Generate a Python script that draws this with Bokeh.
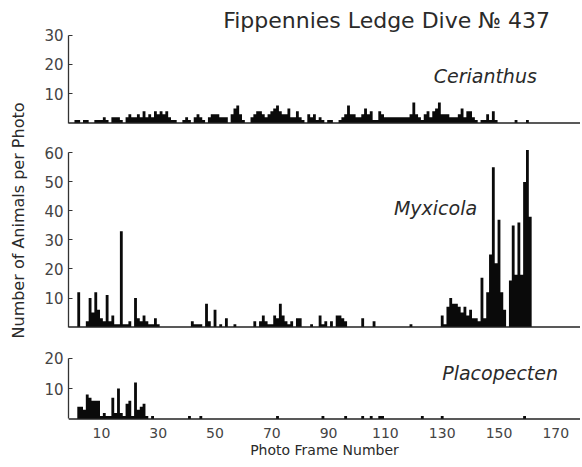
import math
from bokeh.plotting import figure
from bokeh.layouts import column, row
from bokeh.models import FixedTicker, Label, Span, Range1d, ColumnDataSource
from bokeh.embed import file_html
from bokeh.resources import INLINE

# ---------------- data ----------------
x_ticks = [10, 30, 50, 70, 90, 110, 130, 150, 170]

cer_ticks = [10, 20, 30]
cer_frames = [
    1, 2, 4, 5, 8, 9, 10, 11, 12, 14,
    15, 16, 17, 19, 20, 21, 22, 23, 24, 25,
    26, 27, 28, 29, 30, 31, 32, 33, 34, 35,
    36, 39, 40, 41, 43, 44, 45, 46, 48, 49,
    50, 51, 52, 53, 54, 56, 57, 58, 59, 60,
    63, 64, 65, 66, 67, 68, 69, 70, 71, 72,
    73, 74, 75, 76, 77, 78, 79, 80, 81, 83,
    84, 85, 86, 87, 88, 90, 91, 94, 95, 96,
    97, 98, 99, 100, 101, 102, 103, 104, 105, 106,
    107, 108, 109, 110, 111, 112, 113, 114, 115, 116,
    117, 118, 119, 120, 121, 122, 123, 124, 125, 126,
    127, 128, 129, 130, 131, 132, 133, 134, 135, 136,
    137, 138, 139, 140, 141, 142, 144, 145, 146, 147,
    148, 149, 156, 160]
cer_counts = [
    1, 1, 1, 1, 1, 1, 1, 2, 1, 2,
    2, 2, 1, 2, 3, 2, 2, 3, 2, 4,
    2, 3, 2, 4, 3, 4, 3, 4, 2, 1,
    1, 1, 2, 1, 2, 3, 2, 1, 2, 3,
    3, 3, 2, 2, 2, 3, 5, 6, 3, 1,
    2, 3, 4, 4, 3, 2, 3, 4, 5, 6,
    4, 3, 3, 5, 2, 2, 4, 2, 1, 3,
    2, 3, 1, 2, 1, 1, 1, 1, 2, 3,
    6, 3, 3, 2, 2, 3, 5, 3, 4, 1,
    1, 4, 3, 2, 2, 2, 2, 2, 2, 2,
    2, 2, 3, 7, 3, 2, 1, 3, 4, 2,
    4, 5, 7, 3, 3, 3, 2, 2, 2, 3,
    5, 2, 4, 4, 2, 1, 1, 1, 3, 1,
    4, 1, 1, 1]

myx_ticks = [10, 20, 30, 40, 50, 60]
myx_frames = [
    2, 5, 6, 7, 8, 9, 10, 11, 12, 13,
    14, 15, 16, 17, 18, 19, 20, 22, 23, 24,
    25, 26, 27, 28, 29, 30, 42, 43, 44, 45,
    47, 48, 50, 52, 54, 57, 64, 66, 67, 68,
    69, 70, 71, 72, 73, 74, 75, 76, 77, 79,
    80, 84, 87, 88, 89, 91, 93, 94, 95, 96,
    102, 106, 119, 130, 131, 132, 133, 134, 135, 136,
    137, 138, 139, 140, 141, 142, 143, 144, 145, 146,
    147, 148, 149, 150, 151, 152, 154, 155, 156, 157,
    158, 159, 160, 161]
myx_counts = [
    12, 2, 10, 5, 12, 6, 3, 2, 11, 2,
    4, 1, 1, 33, 1, 1, 2, 10, 3, 2,
    4, 2, 1, 1, 3, 1, 2, 1, 1, 1,
    8, 2, 6, 1, 3, 1, 2, 2, 4, 2,
    1, 1, 4, 3, 8, 4, 2, 1, 2, 3,
    3, 1, 4, 1, 2, 2, 4, 4, 3, 2,
    3, 2, 1, 4, 1, 7, 10, 8, 8, 7,
    5, 7, 4, 6, 3, 3, 2, 17, 3, 12,
    25, 55, 22, 37, 12, 6, 16, 35, 18, 36,
    18, 50, 61, 38]

pla_ticks = [10, 20]
pla_frames = [
    2, 3, 4, 5, 6, 7, 8, 9, 10, 11,
    12, 13, 14, 15, 16, 17, 18, 19, 20, 21,
    22, 23, 24, 25, 26, 28, 41, 45, 72, 88,
    96, 102, 105, 108, 109, 123, 130, 159]
pla_counts = [
    4, 4, 3, 8, 7, 6, 6, 6, 1, 2,
    1, 1, 7, 2, 10, 2, 1, 5, 6, 1,
    12, 3, 4, 5, 1, 1, 1, 1, 1, 1,
    1, 1, 1, 1, 1, 1, 1, 1]

TITLE = "Fippennies Ledge Dive № 437"
Y_LABEL = "Number of Animals per Photo"
X_LABEL = "Photo Frame Number"
NAMES = ["Cerianthus", "Myxicola", "Placopecten"]

# ---------------- styling ----------------
FONT = "DejaVu Sans"
INK = "#0a0a0a"
TXT = "#2a2a2a"
TICK_TXT = "#444444"
X_RANGE = (-1.6, 178.7)
FRAME_W = 512
LEFT = 36
LAST_FRAME = 178


def step_source(frames, counts):
    # table with one row per photo frame (frames with no animals -> 0)
    lookup = dict(zip(frames, counts))
    xs = list(range(0, LAST_FRAME + 1))
    return ColumnDataSource(dict(x=xs, y=[lookup.get(f, 0) for f in xs], base=[0] * len(xs)))


def panel(frames, counts, yr, ticks, top, fh, bottom, name, lx, ly, show_x=False):
    p = figure(frame_width=FRAME_W, frame_height=fh,
               x_range=Range1d(*X_RANGE), y_range=Range1d(*yr),
               min_border_left=LEFT, min_border_right=0,
               min_border_top=top, min_border_bottom=bottom,
               x_axis_location="below" if show_x else None,
               output_backend="svg", toolbar_location=None)
    p.outline_line_color = None
    p.grid.visible = False
    p.background_fill_color = "white"
    p.border_fill_color = "white"
    p.varea_step(x="x", y1="base", y2="y", step_mode="center",
                 source=step_source(frames, counts), fill_color=INK)
    p.add_layout(Span(location=0, dimension="width", line_color="#222222", line_width=1.4))
    ax = p.yaxis[0]
    ax.ticker = FixedTicker(ticks=ticks)
    ax.bounds = (0, ticks[-1])
    ax.major_tick_in = 4
    ax.major_tick_out = 0
    ax.major_tick_line_color = "#333333"
    ax.minor_tick_line_color = None
    ax.axis_line_color = "#333333"
    ax.axis_line_width = 1.3
    ax.major_label_text_font = FONT
    ax.major_label_text_font_size = "15px"
    ax.major_label_text_color = TICK_TXT
    ax.major_label_standoff = 5
    p.add_layout(Label(x=lx, y=ly, text=name, text_font=FONT, text_font_size="19px",
                       text_font_style="italic", text_color=TXT,
                       text_align="left", text_baseline="middle"))
    if show_x:
        xa = p.xaxis[0]
        xa.ticker = FixedTicker(ticks=x_ticks)
        xa.major_tick_in = 0
        xa.major_tick_out = 0
        xa.minor_tick_line_color = None
        xa.axis_line_color = None
        xa.major_label_text_font = FONT
        xa.major_label_text_font_size = "14px"
        xa.major_label_text_color = TICK_TXT
        xa.major_label_standoff = 7
        xa.axis_label = X_LABEL
        xa.axis_label_text_font = FONT
        xa.axis_label_text_font_size = "14px"
        xa.axis_label_text_font_style = "normal"
        xa.axis_label_text_color = TXT
        xa.axis_label_standoff = 1
    return p


p1 = panel(cer_frames, cer_counts, (-0.5, 41.8), cer_ticks, 0, 124, 4, NAMES[0], 127, 16)
p1.add_layout(Label(x=168, y=35.1, text=TITLE, text_font=FONT, text_font_size="22px",
                    text_color=TXT, text_align="right", text_baseline="middle"))
p2 = panel(myx_frames, myx_counts, (-0.5, 61.5), myx_ticks, 20, 180, 3, NAMES[1], 113, 41)
p3 = panel(pla_frames, pla_counts, (-0.5, 20.5), pla_ticks, 25, 64, 45, NAMES[2], 130, 15, show_x=True)

lab = figure(frame_width=32, frame_height=465, x_range=Range1d(0, 32), y_range=Range1d(0, 465),
             x_axis_location=None, y_axis_location=None, min_border=0,
             output_backend="svg", toolbar_location=None)
lab.outline_line_color = None
lab.grid.visible = False
lab.add_layout(Label(x=18, y=245, text=Y_LABEL, angle=math.pi / 2, text_font=FONT,
                     text_font_size="16px", text_color=TXT,
                     text_align="center", text_baseline="middle"))

layout = row(lab, column(p1, p2, p3))

open("out.html", "w").write(file_html(layout, INLINE))
